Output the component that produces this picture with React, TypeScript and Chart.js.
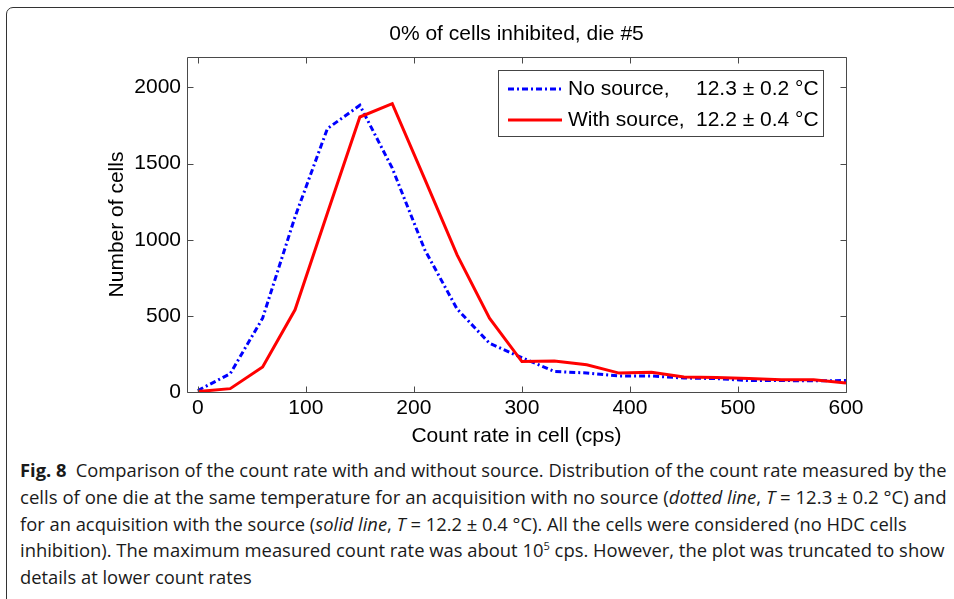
import React, { useEffect, useLayoutEffect, useRef } from "react";
import { Chart, registerables } from "chart.js";

Chart.register(...registerables);

const countRate = [0, 30, 60, 90, 120, 150, 180, 210, 240, 270, 300, 330, 360, 390, 420, 450, 480, 510, 540, 570, 600];
const noSource = [10, 120, 485, 1150, 1730, 1883, 1470, 935, 545, 320, 225, 135, 125, 105, 105, 92, 88, 75, 75, 74, 75];
const withSource = [3, 22, 164, 540, 1175, 1806, 1894, 1400, 900, 485, 200, 204, 179, 124, 130, 98, 96, 89, 81, 81, 59];
const xTickValues = [0, 100, 200, 300, 400, 500, 600];
const yTickValues = [0, 500, 1000, 1500, 2000];
const chartTitle = "0% of cells inhibited, die #5";
const xTitle = "Count rate in cell (cps)";
const yTitle = "Number of cells";
const legendNames = ["No source,", "With source,"];
const legendTemps = ["12.3 \u00b1 0.2 \u00b0C", "12.2 \u00b1 0.4 \u00b0C"];

const FONT = "'Liberation Sans', Arial, Helvetica, sans-serif";
const FS = 21;
const BLUE = "rgb(0,0,255)";
const RED = "rgb(255,0,0)";
const BLUE_DASH = [6, 3, 2, 3];

const boxPlugin = {
  id: "boxPlugin",
  afterDatasetsDraw(chart: any) {
    const { ctx, chartArea: a, scales } = chart;
    const L = Math.round(a.left) + 0.5;
    const R = Math.round(a.right) + 0.5;
    const T = Math.round(a.top) + 0.5;
    const B = Math.round(a.bottom) + 0.5;
    ctx.save();
    ctx.strokeStyle = "#4a4a4a";
    ctx.lineWidth = 1;
    ctx.setLineDash([]);
    ctx.beginPath();
    ctx.rect(L, T, R - L, B - T);
    const tl = 6;
    xTickValues.forEach((v) => {
      const px = Math.round(scales.x.getPixelForValue(v)) + 0.5;
      ctx.moveTo(px, B);
      ctx.lineTo(px, B - tl);
      ctx.moveTo(px, T);
      ctx.lineTo(px, T + tl);
    });
    yTickValues.forEach((v) => {
      const py = Math.round(scales.y.getPixelForValue(v)) + 0.5;
      ctx.moveTo(L, py);
      ctx.lineTo(L + tl, py);
      ctx.moveTo(R, py);
      ctx.lineTo(R - tl, py);
    });
    ctx.stroke();

    // legend
    const lx = 498.5, ly = 70.5, lw = 325, lh = 66;
    ctx.fillStyle = "#ffffff";
    ctx.fillRect(lx, ly, lw, lh);
    ctx.strokeStyle = "#444444";
    ctx.strokeRect(lx, ly, lw, lh);
    const rows = [89, 120];
    const styles = [
      { color: BLUE, dash: BLUE_DASH },
      { color: RED, dash: [] as number[] },
    ];
    rows.forEach((ry, i) => {
      ctx.beginPath();
      ctx.strokeStyle = styles[i].color;
      ctx.lineWidth = 3;
      ctx.setLineDash(styles[i].dash);
      ctx.moveTo(508, ry);
      ctx.lineTo(562, ry);
      ctx.stroke();
      ctx.setLineDash([]);
      ctx.fillStyle = "#000";
      ctx.font = `${FS}px ${FONT}`;
      ctx.textBaseline = "middle";
      ctx.textAlign = "left";
      ctx.fillText(legendNames[i], 568, ry);
      ctx.fillText(legendTemps[i], 696, ry);
    });
    ctx.restore();
  },
};

function ChartCanvas() {
  const ref = useRef<HTMLCanvasElement | null>(null);
  useEffect(() => {
    if (!ref.current) return;
    const chart = new Chart(ref.current, {
      type: "line",
      data: {
        datasets: [
          {
            label: "No source",
            data: countRate.map((x, i) => ({ x, y: noSource[i] })),
            borderColor: BLUE,
            borderWidth: 3,
            borderDash: BLUE_DASH,
            pointRadius: 0,
            tension: 0,
            fill: false,
            order: 1,
          },
          {
            label: "With source",
            data: countRate.map((x, i) => ({ x, y: withSource[i] })),
            borderColor: RED,
            borderWidth: 3,
            pointRadius: 0,
            tension: 0,
            fill: false,
            order: 0,
          },
        ],
      },
      options: {
        animation: false,
        responsive: false,
        devicePixelRatio: 1,
        layout: { padding: { left: 0, right: 108, top: 0, bottom: 0 } },
        plugins: {
          legend: { display: false },
          tooltip: { enabled: false },
          title: {
            display: true,
            fullSize: false,
            text: chartTitle,
            color: "#000",
            font: { family: FONT, size: FS, weight: "normal" as any, lineHeight: 1.2 },
            padding: { top: 21.5, bottom: 10.3 },
          },
        },
        scales: {
          x: {
            type: "linear",
            min: -10,
            max: 600,
            afterBuildTicks: (axis: any) => {
              axis.ticks = xTickValues.map((v) => ({ value: v }));
            },
            afterFit: (axis: any) => {
              axis.height = 63;
            },
            grid: { display: false, drawTicks: false },
            border: { display: false },
            ticks: {
              color: "#000",
              font: { family: FONT, size: FS, lineHeight: 1.2 },
              padding: 4,
              maxRotation: 0,
              autoSkip: false,
              callback: (v: any) => String(v),
            },
            title: {
              display: true,
              text: xTitle,
              color: "#000",
              font: { family: FONT, size: FS, lineHeight: 1.2 },
              padding: { top: 0, bottom: 6.4 },
            },
          },
          y: {
            type: "linear",
            min: 0,
            max: 2200,
            afterBuildTicks: (axis: any) => {
              axis.ticks = yTickValues.map((v) => ({ value: v }));
            },
            afterFit: (axis: any) => {
              axis.width = 187;
            },
            grid: { display: false, drawTicks: false },
            border: { display: false },
            ticks: {
              color: "#000",
              font: { family: FONT, size: FS, lineHeight: 1.2 },
              padding: 6,
              autoSkip: false,
              callback: (v: any) => String(v),
            },
            title: {
              display: true,
              text: yTitle,
              color: "#000",
              font: { family: FONT, size: FS, lineHeight: 1.2 },
              padding: { top: 104.4, bottom: 0 },
            },
          },
        },
      },
      plugins: [boxPlugin],
    });
    return () => chart.destroy();
  }, []);
  return (
    <canvas
      ref={ref}
      width={954}
      height={455}
      style={{ position: "absolute", left: 0, top: 0, width: 954, height: 455 }}
    />
  );
}

const captionLines: React.ReactNode[] = [
  <>
    <b>Fig. 8</b>{"\u2002"}Comparison of the count rate with and without source. Distribution of the count rate measured by the
  </>,
  <>
    cells of one die at the same temperature for an acquisition with no source (<i>dotted line</i>, <i>T</i> = 12.3 ± 0.2 °C) and
  </>,
  <>
    for an acquisition with the source (<i>solid line</i>, <i>T</i> = 12.2 ± 0.4 °C). All the cells were considered (no HDC cells
  </>,
  <>
    inhibition). The maximum measured count rate was about 10<sup style={{ fontSize: "0.6em", lineHeight: 0 }}>5</sup> cps. However, the plot was truncated to show
  </>,
  <>details at lower count rates</>,
];
const captionCenters = [470, 497, 524, 550, 577];
const captionTargets = [927, 927, 0, 925, 0];

export default function App() {
  const lineRefs = useRef<(HTMLDivElement | null)[]>([]);
  useLayoutEffect(() => {
    const first = lineRefs.current[0];
    if (!first) return;
    const w = first.scrollWidth;
    const base = w > 0 ? captionTargets[0] / w : 1;
    lineRefs.current.forEach((el, i) => {
      if (!el) return;
      let s = base;
      if (captionTargets[i] > 0) {
        const wi = el.scrollWidth;
        if (wi > 0) s = captionTargets[i] / wi;
      }
      el.style.transform = `scaleX(${s})`;
    });
  }, []);
  return (
    <div
      style={{
        position: "fixed",
        left: 0,
        top: 0,
        width: 954,
        height: 599,
        background: "#fff",
        overflow: "hidden",
      }}
    >
      <div
        style={{
          position: "absolute",
          left: 6,
          top: 7,
          width: 1000,
          height: 700,
          border: "1.5px solid #333",
          borderRadius: 7,
          boxSizing: "border-box",
        }}
      />
      <ChartCanvas />
      {captionLines.map((ln, i) => (
        <div
          key={i}
          ref={(el) => {
            lineRefs.current[i] = el;
          }}
          style={{
            position: "absolute",
            left: 20,
            top: captionCenters[i] - 13,
            height: 26,
            lineHeight: "26px",
            whiteSpace: "nowrap",
            fontFamily: "'Open Sans', 'Noto Sans', sans-serif",
            fontSize: 18,
            color: "#1a1a1a",
            transformOrigin: "0 50%",
          }}
        >
          {ln}
        </div>
      ))}
    </div>
  );
}
